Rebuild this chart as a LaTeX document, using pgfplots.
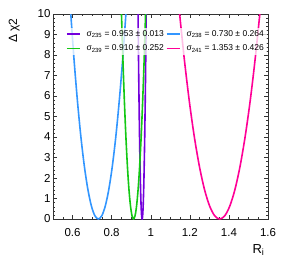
\documentclass[border=0pt]{standalone}
\usepackage{pgfplots}
\pgfplotsset{compat=1.18}
\usepackage{pgfplotstable}
\usepackage{fontspec}
\setmainfont{Liberation Sans}
\definecolor{cpurple}{RGB}{115,0,220}
\definecolor{cgreen}{RGB}{20,200,20}
\definecolor{cblue}{RGB}{50,150,255}
\definecolor{cpink}{RGB}{255,0,150}
\pgfplotstableread{
x y
0.5893 10.24
0.6071 7.84
0.6250 5.76
0.6428 4.00
0.6606 2.56
0.6785 1.44
0.6963 0.64
0.7142 0.16
0.7320 0.00
0.7498 0.16
0.7677 0.64
0.7855 1.44
0.8033 2.56
0.8212 4.00
0.8390 5.76
0.8569 7.84
0.8747 10.24
}\blue
\pgfplotstableread{
x y
0.8496 10.24
0.8574 7.84
0.8652 5.76
0.8730 4.00
0.8808 2.56
0.8886 1.44
0.8964 0.64
0.9042 0.16
0.9120 0.00
0.9198 0.16
0.9276 0.64
0.9354 1.44
0.9432 2.56
0.9510 4.00
0.9588 5.76
0.9666 7.84
0.9744 10.24
}\green
\pgfplotstableread{
x y
0.93488 10.24
0.93752 7.84
0.94016 5.76
0.94280 4.00
0.94544 2.56
0.94808 1.44
0.95072 0.64
0.95336 0.16
0.95600 0.00
0.95864 0.16
0.96128 0.64
0.96392 1.44
0.96656 2.56
0.96920 4.00
0.97184 5.76
0.97448 7.84
0.97712 10.24
}\purple
\pgfplotstableread{
x y
1.1453 10.24
1.1713 7.84
1.1972 5.76
1.2232 4.00
1.2492 2.56
1.2751 1.44
1.3011 0.64
1.3270 0.16
1.3530 0.00
1.3790 0.16
1.4049 0.64
1.4309 1.44
1.4568 2.56
1.4828 4.00
1.5088 5.76
1.5347 7.84
1.5607 10.24
}\pink
\begin{document}
\begin{tikzpicture}
\useasboundingbox (-53pt,-39pt) rectangle (246pt,219pt);
\begin{axis}[
  scale only axis, width=215pt, height=205pt,
  xmin=0.5, xmax=1.6, ymin=0, ymax=10,
  xtick={0.6,0.8,1,1.2,1.4,1.6},
  xticklabels={0.6,0.8,1,1.2,1.4,1.6},
  minor xtick={0.5,0.55,...,1.61},
  ytick={0,1,...,10},
  minor ytick={0,0.2,...,10.01},
  tick align=inside,
  major tick length=4pt, minor tick length=2pt,
  every tick/.style={black!80, line width=0.4pt},
  axis line style={black!80, line width=0.5pt},
  /pgf/number format/assume math mode=true,
  tick label style={font=\fontsize{11.5}{13}\selectfont},
  xticklabel style={yshift=-6pt},
  yticklabel style={xshift=1pt},
  ylabel={Δ χ2},
  ylabel style={font=\fontsize{12}{14}\selectfont, at={(axis description cs:-0.18,0.995)}, anchor=east, rotate=0},
  xlabel={R\textsubscript{i}},
  xlabel style={font=\fontsize{13}{15}\selectfont, at={(axis description cs:1,0)}, anchor=north east, yshift=-22pt},
  legend columns=2,
  legend style={at={(axis description cs:0.055,0.935)}, anchor=north west, draw=none, fill=white, fill opacity=0.75, text opacity=1, draw opacity=1, font=\fontsize{8.5}{10}\selectfont, column sep=0pt, row sep=3pt, inner sep=1pt},
  legend cell align=left,
  legend image code/.code={\draw[#1, line width=1.6pt, opacity=1] (0pt,0pt) -- (13pt,0pt);},
]
\addplot[cpurple, line width=1.6pt, smooth] table {\purple};
\addlegendentry{\hspace{4pt}σ\textsubscript{235} = 0.953 ± 0.013\hspace{11pt}}
\addplot[cblue, line width=1.6pt, smooth] table {\blue};
\addlegendentry{\hspace{4pt}σ\textsubscript{238} = 0.730 ± 0.264}
\addplot[cgreen, line width=1.6pt, smooth] table {\green};
\addlegendentry{\hspace{4pt}σ\textsubscript{239} = 0.910 ± 0.252\hspace{11pt}}
\addplot[cpink, line width=1.6pt, smooth] table {\pink};
\addlegendentry{\hspace{4pt}σ\textsubscript{241} = 1.353 ± 0.426}
\end{axis}
\end{tikzpicture}
\end{document}
